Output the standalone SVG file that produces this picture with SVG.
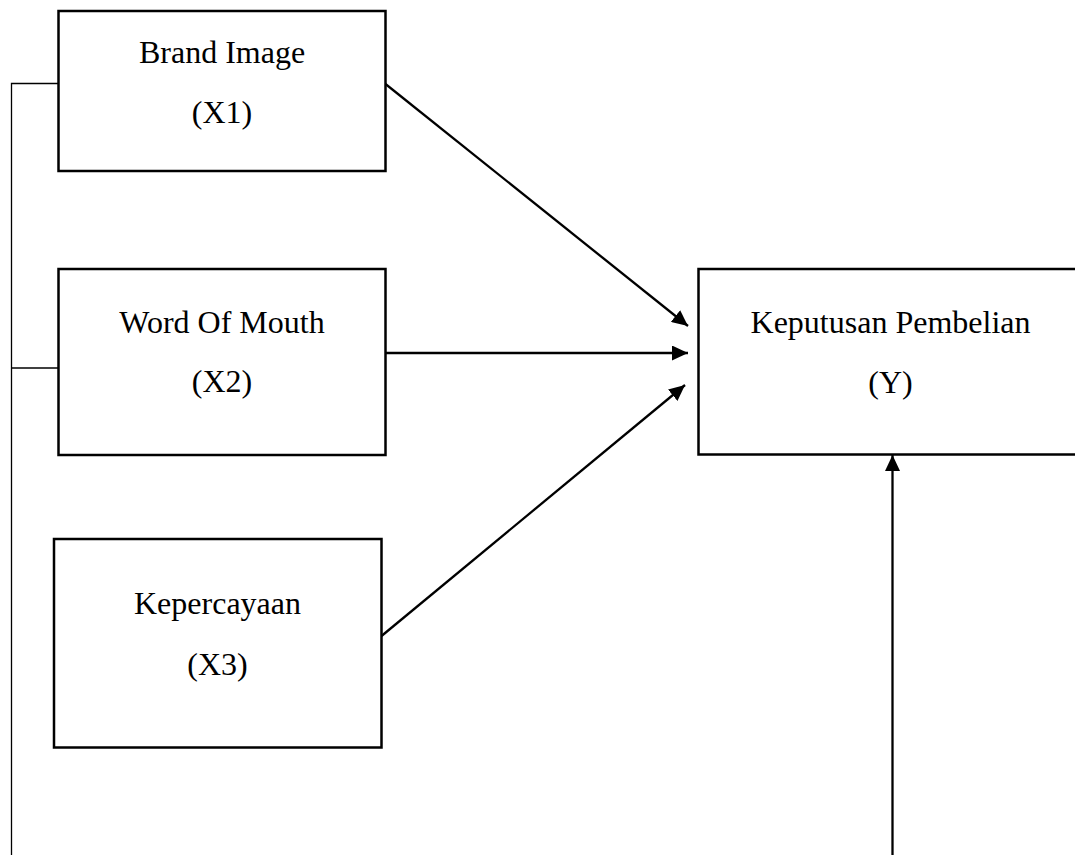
<svg xmlns="http://www.w3.org/2000/svg" width="1075" height="855" viewBox="0 0 1075 855">
<style>
.box{fill:#fff;stroke:#000;stroke-width:2.5}
.lbl{font-family:"Liberation Serif","Times New Roman",serif;font-size:32px;fill:#000;text-anchor:middle}
.thin{fill:none;stroke:#000;stroke-width:1.3}
.arr{fill:none;stroke:#000;stroke-width:2.3;marker-end:url(#ah)}
</style>
<defs>
<marker id="ah" viewBox="0 0 10 10" refX="10" refY="5" markerWidth="16" markerHeight="15" markerUnits="userSpaceOnUse" orient="auto" preserveAspectRatio="none">
<path d="M0,0 L10,5 L0,10 z" fill="#000"/>
</marker>
</defs>
<rect width="1075" height="855" fill="#fff"/>
<g id="connectors">
<path class="thin" d="M58.5,83.5 H11.5 V855"/>
<path class="thin" d="M11.5,368 H58.5"/>
<line class="arr" x1="385.5" y1="84" x2="688" y2="326"/>
<line class="arr" x1="385.5" y1="353" x2="688" y2="353"/>
<line class="arr" x1="381.5" y1="636" x2="685" y2="385"/>
<line class="arr" x1="892.5" y1="855" x2="892.5" y2="455"/>
</g>
<g id="x1">
<rect class="box" x="58.5" y="11" width="327" height="160"/>
<text class="lbl" x="222" y="63">Brand Image</text>
<text class="lbl" x="222" y="123">(X1)</text>
</g>
<g id="x2">
<rect class="box" x="58.5" y="269" width="327" height="186"/>
<text class="lbl" x="222" y="333">Word Of Mouth</text>
<text class="lbl" x="222" y="392">(X2)</text>
</g>
<g id="x3">
<rect class="box" x="54" y="539" width="327.5" height="208.5"/>
<text class="lbl" x="217.5" y="614">Kepercayaan</text>
<text class="lbl" x="217.5" y="675">(X3)</text>
</g>
<g id="y">
<rect class="box" x="698.5" y="269" width="400" height="185.5"/>
<text class="lbl" x="890.5" y="333">Keputusan Pembelian</text>
<text class="lbl" x="890.5" y="393">(Y)</text>
</g>
</svg>
